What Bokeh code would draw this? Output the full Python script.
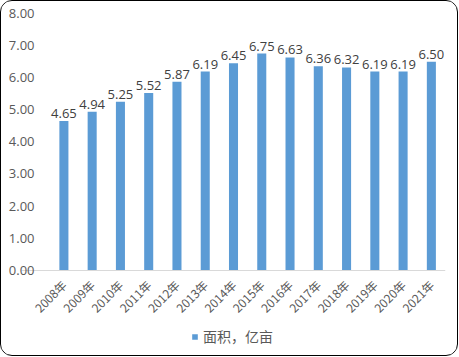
import math
from bokeh.plotting import figure
from bokeh.layouts import column
from bokeh.core.properties import value
from bokeh.models import ColumnDataSource, Legend, LegendItem, FactorRange, Range1d, NumeralTickFormatter, LabelSet, FixedTicker
from bokeh.embed import file_html
from bokeh.resources import INLINE

years = ["2008年", "2009年", "2010年", "2011年", "2012年", "2013年", "2014年",
         "2015年", "2016年", "2017年", "2018年", "2019年", "2020年", "2021年"]
area = [4.65, 4.94, 5.25, 5.52, 5.87, 6.19, 6.45, 6.75, 6.63, 6.36, 6.32, 6.19, 6.19, 6.50]
series_name = "面积，亿亩"
y_ticks = [0, 1, 2, 3, 4, 5, 6, 7, 8]

src = ColumnDataSource(dict(x=years, y=area, lbl=["%.2f" % v for v in area]))

# a blank leading slot leaves room for the slanted first year label
p = figure(frame_width=424, frame_height=341, output_backend="svg", toolbar_location=None,
           x_range=FactorRange(*([" "] + years), range_padding=0), y_range=Range1d(-2.656, 8),
           min_border_left=20, min_border_right=11, min_border_top=12, min_border_bottom=0)
p.outline_line_color = None
p.xgrid.grid_line_color = None
p.ygrid.grid_line_color = None

bars = p.vbar(x="x", top="y", width=0.32, source=src, fill_color="#5B9BD5", line_color=None)

labels = LabelSet(x="x", y="y", text="lbl", source=src, text_align="center", text_baseline="bottom",
                  y_offset=3, text_font=value("Open Sans"), text_font_size="13px", text_color="#404040")
p.add_layout(labels)

p.yaxis.ticker = FixedTicker(ticks=y_ticks)
p.yaxis.formatter = NumeralTickFormatter(format="0.00")
p.yaxis.axis_line_color = None
p.yaxis.major_tick_line_color = None
p.yaxis.minor_tick_line_color = None
p.yaxis.major_tick_out = 0
p.yaxis.major_tick_in = 0
p.yaxis.major_label_text_font = "Open Sans"
p.yaxis.major_label_text_font_size = "13px"
p.yaxis.major_label_text_color = "#595959"
p.yaxis.major_label_standoff = -13

p.xaxis.fixed_location = 0
p.xaxis.axis_line_color = "#D9D9D9"
p.xaxis.major_tick_line_color = None
p.xaxis.minor_tick_line_color = None
p.xaxis.major_label_orientation = math.pi / 4
p.xaxis.major_label_text_font = "Noto Sans CJK SC"
p.xaxis.major_label_text_font_size = "12px"
p.xaxis.major_label_text_color = "#595959"
p.xaxis.major_label_standoff = 6

legend = Legend(items=[LegendItem(label=series_name, renderers=[bars])], location=(170, 9),
                orientation="horizontal", glyph_width=7, glyph_height=7,
                label_text_font="Noto Sans CJK SC", label_text_font_size="14px",
                label_text_color="#595959", border_line_color=None, background_fill_alpha=0,
                padding=2, margin=0, label_standoff=5)
p.add_layout(legend)

layout = column(p, width=458, height=356)
layout.styles = {"border": "1.5px solid #000000", "border-radius": "12px", "overflow": "hidden"}

open("out.html", "w").write(file_html(layout, INLINE))
